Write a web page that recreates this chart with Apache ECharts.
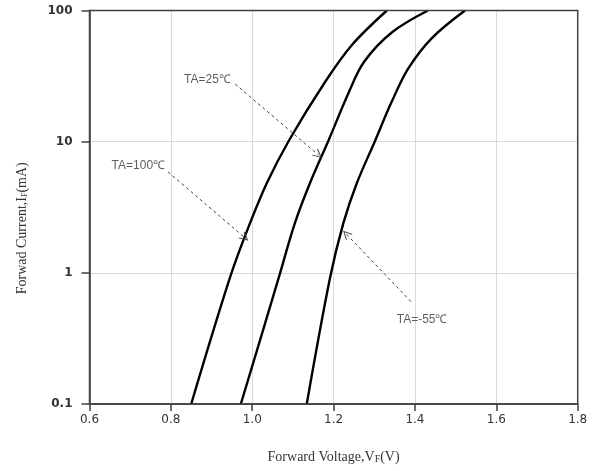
<!DOCTYPE html>
<html>
<head>
<meta charset="utf-8">
<script src="https://cdn.jsdelivr.net/npm/echarts@6/dist/echarts.min.js"></script>
<style>
html,body{margin:0;padding:0;background:#fff;}
#chart{width:603px;height:471px;}
</style>
</head>
<body>
<div id="chart"></div>
<script>
// Data
var xTicks = ['0.6','0.8','1.0','1.2','1.4','1.6','1.8'];
var yTicks = ['0.1','1','10','100'];
var curve100 = [[0.850,0.1],[0.945,0.914],[0.990,2.20],[1.036,4.84],[1.091,10.3],[1.179,28.5],[1.245,54.6],[1.331,100]];
var curve25  = [[0.972,0.1],[1.065,0.914],[1.105,2.40],[1.142,4.84],[1.188,10.3],[1.238,24.0],[1.275,40.7],[1.343,68.0],[1.432,100]];
var curveM55 = [[1.134,0.1],[1.191,0.909],[1.224,2.39],[1.257,4.82],[1.301,10.0],[1.343,20.2],[1.384,36.3],[1.441,61.4],[1.523,100]];
var labelNames = ['TA=25℃','TA=100℃','TA=-55℃'];
var labelPos = [[0.890,29.5],[0.720,6.56],[1.4175,0.438]];
var arrowStart = [[0.958,27.5],[0.793,5.88],[1.390,0.604]];
var arrowEnd = [[1.1625,7.92],[0.982,1.85],[1.231,1.98]];

var chart = echarts.init(document.getElementById('chart'));

function curveSeries(data){
  return {
    type:'line', data:data, smooth:0.35, symbol:'none',
    lineStyle:{color:'#000', width:2.4}, silent:true, z:3
  };
}

var arrowLines = arrowStart.map(function(s,i){
  return [{coord:s},{coord:arrowEnd[i]}];
});

var option = {
  backgroundColor:'#fff',
  animation:false,
  grid:{left:89.5, right:25.3, top:10.5, bottom:67, show:false},
  xAxis:{
    type:'value', min:0.6, max:1.8, interval:0.2,
    axisLine:{show:true, lineStyle:{color:'#404040', width:1.5}},
    axisTick:{show:true, length:7, lineStyle:{color:'#404040', width:1.5}},
    axisLabel:{
      color:'#333', fontSize:12, fontFamily:'"DejaVu Sans", sans-serif', margin:10,
      formatter:function(v){ var i=Math.round((v-0.6)/0.2); return xTicks[i]!==undefined?xTicks[i]:''; }
    },
    splitLine:{show:true, lineStyle:{color:'#d9d9d9', width:1}},
    name:'{n|Forward Voltage,V}{s|F}{n|(V)}',
    nameLocation:'middle', nameGap:46,
    nameTextStyle:{
      rich:{
        n:{fontFamily:'"Liberation Serif", serif', fontSize:14, color:'#333'},
        s:{fontFamily:'"Liberation Serif", serif', fontSize:10, color:'#333', padding:[4,0,0,0]}
      }
    }
  },
  yAxis:{
    type:'log', logBase:10, min:0.1, max:100,
    axisLine:{show:true, onZero:false, lineStyle:{color:'#404040', width:1.5}},
    axisTick:{show:true, length:8, lineStyle:{color:'#404040', width:1.5}},
    axisLabel:{
      color:'#333', fontSize:12, fontWeight:'bold', fontFamily:'"DejaVu Sans", sans-serif', margin:17,
      formatter:function(v){ var i=Math.round(Math.log10(v))+1; return yTicks[i]!==undefined?yTicks[i]:''; }
    },
    splitLine:{show:true, lineStyle:{color:'#d9d9d9', width:1}},
    minorTick:{show:false},
    name:'{n|Forwad Current,I}{s|F}{n|(mA)}',
    nameLocation:'middle', nameGap:60, nameRotate:90,
    nameTextStyle:{
      padding:[0,42,0,0],
      rich:{
        n:{fontFamily:'"Liberation Serif", serif', fontSize:14, color:'#333'},
        s:{fontFamily:'"Liberation Serif", serif', fontSize:8, color:'#333', padding:[5,0,0,0]}
      }
    }
  },
  series:[
    curveSeries(curve100),
    curveSeries(curve25),
    curveSeries(curveM55),
    {
      type:'scatter', symbolSize:0, silent:true, z:5,
      data:labelPos.map(function(p,i){ return {value:p, name:labelNames[i]}; }),
      label:{show:true, position:'inside', formatter:'{b}', color:'#333', fontSize:12,
             fontFamily:'"Liberation Sans", Arial, sans-serif'},
      markLine:{
        silent:true,
        symbol:['none','path://M5,0 L10,10 L8.8,10 L5,2.4 L1.2,10 L0,10 Z'],
        symbolSize:[9,9],
        lineStyle:{type:[3,3], color:'#444', width:1},
        label:{show:false},
        data:arrowLines
      }
    }
  ]
};
chart.setOption(option);

// plot frame (top and right edges), drawn from the grid rect
var rect = chart.getModel().getComponent('grid').coordinateSystem.getRect();
chart.setOption({
  graphic:[{
    type:'rect', shape:{x:rect.x, y:rect.y, width:rect.width, height:rect.height},
    style:{fill:null, stroke:'#404040', lineWidth:1.5}, silent:true, z:10
  }]
});
</script>
</body>
</html>
